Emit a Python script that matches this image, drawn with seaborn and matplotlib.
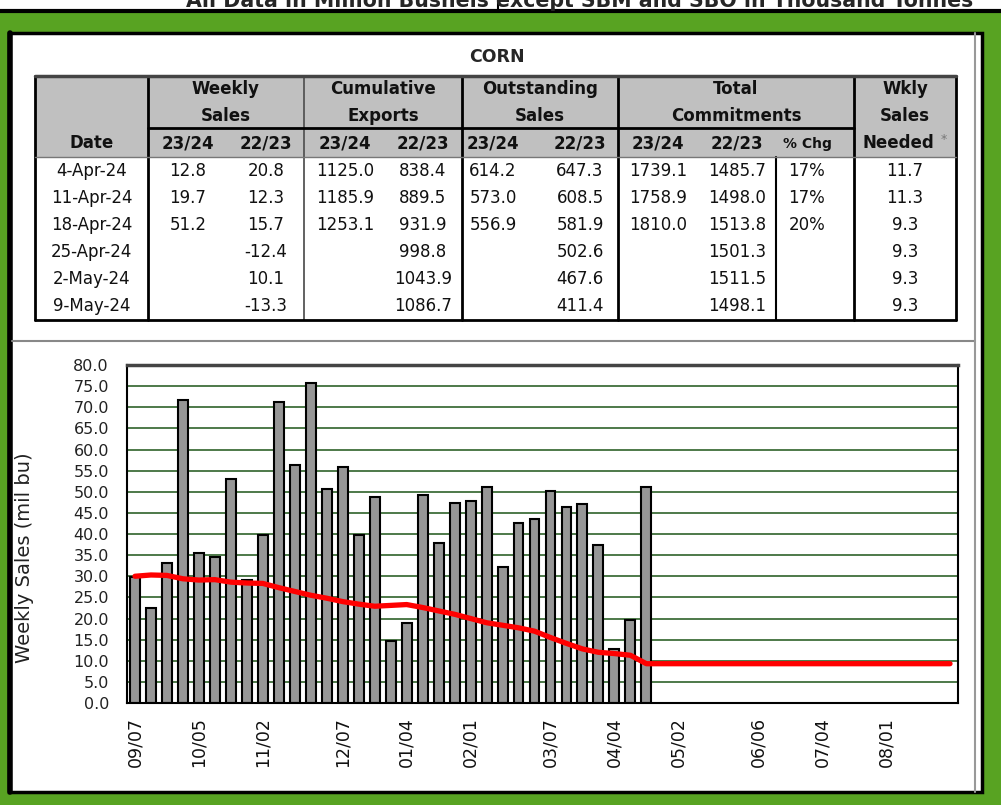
import numpy as np
import pandas as pd
import matplotlib
matplotlib.use("Agg")
import matplotlib.pyplot as plt
from matplotlib.patches import Rectangle
from matplotlib.ticker import FixedLocator, MultipleLocator, FormatStrFormatter
import seaborn as sns

# -------------------------------
# Data
# -------------------------------
weeks = ["09/07", "09/14", "09/21", "09/28", "10/05", "10/12", "10/19", "10/26",
         "11/02", "11/09", "11/16", "11/23", "11/30", "12/07", "12/14", "12/21",
         "12/28", "01/04", "01/11", "01/18", "01/25", "02/01", "02/08", "02/15",
         "02/22", "02/29", "03/07", "03/14", "03/21", "03/28", "04/04", "04/11",
         "04/18", "04/25", "05/02", "05/09", "05/16", "05/23", "05/30", "06/06",
         "06/13", "06/20", "06/27", "07/04", "07/11", "07/18", "07/25", "08/01",
         "08/08", "08/15", "08/22", "08/29"]

tick_weeks = ["09/07", "10/05", "11/02", "12/07", "01/04", "02/01",
              "03/07", "04/04", "05/02", "06/06", "07/04", "08/01"]

# weekly sales 23/24 (mil bu), reported weeks only
sales = [29.9, 22.4, 33.2, 71.6, 35.5, 34.6, 53.1, 29.2, 39.8, 71.2,
         56.4, 75.8, 50.7, 55.9, 39.8, 48.8, 14.6, 18.9, 49.2, 37.9,
         47.3, 47.8, 51.1, 32.1, 42.6, 43.5, 50.2, 46.4, 47.2, 37.4,
         12.8, 19.7, 51.2]

# weekly sales needed to reach USDA export estimate
needed = [30.0, 30.3, 30.2, 29.4, 29.1, 29.2, 28.6, 28.4, 28.3, 27.3,
          26.4, 25.5, 24.8, 24.0, 23.4, 22.9, 23.1, 23.3, 22.6, 21.8,
          21.0, 20.0, 19.0, 18.4, 17.8, 17.0, 15.5, 14.1, 12.8, 12.0,
          11.7, 11.3, 9.3, 9.3, 9.3, 9.3, 9.3, 9.3, 9.3, 9.3,
          9.3, 9.3, 9.3, 9.3, 9.3, 9.3, 9.3, 9.3, 9.3, 9.3,
          9.3, 9.3]

# table
tbl_dates = ["4-Apr-24", "11-Apr-24", "18-Apr-24", "25-Apr-24", "2-May-24", "9-May-24"]
ws_new = [12.8, 19.7, 51.2, None, None, None]
ws_old = [20.8, 12.3, 15.7, -12.4, 10.1, -13.3]
ce_new = [1125.0, 1185.9, 1253.1, None, None, None]
ce_old = [838.4, 889.5, 931.9, 998.8, 1043.9, 1086.7]
os_new = [614.2, 573.0, 556.9, None, None, None]
os_old = [647.3, 608.5, 581.9, 502.6, 467.6, 411.4]
tc_new = [1739.1, 1758.9, 1810.0, None, None, None]
tc_old = [1485.7, 1498.0, 1513.8, 1501.3, 1511.5, 1498.1]
pct_chg = ["17%", "17%", "20%", "", "", ""]
wk_needed = [11.7, 11.3, 9.3, 9.3, 9.3, 9.3]

df = pd.DataFrame({"week": weeks[:len(sales)], "sales": sales})

# -------------------------------
# Figure / frame
# -------------------------------
sns.set_style("white")
plt.rcParams["font.family"] = ["DejaVu Sans"]

W, H = 1001, 805
fig = plt.figure(figsize=(W / 100, H / 100), dpi=100)
fig.patch.set_facecolor("white")

bg = fig.add_axes([0, 0, 1, 1], zorder=0)
bg.set_xlim(0, W)
bg.set_ylim(H, 0)
bg.axis("off")

green = "#58A322"
bg.add_patch(Rectangle((0, 12), W, H - 12, color=green, lw=0))
bg.add_patch(Rectangle((9, 33), 973, 759, facecolor="white", edgecolor="black", lw=2.5))
bg.plot([0, W], [11, 11], color="black", lw=3)
bg.plot([498, 498], [0, 11], color="black", lw=1.5)
bg.plot([10, 10], [33, 792], color="black", lw=4)
bg.plot([12, 975], [341, 341], color="#888888", lw=1.5)
bg.plot([975, 975], [33, 792], color="#999999", lw=1.5)
# page header, cut off by the top edge as in the source scan
bg.text(580, 7, "All Data in Million Bushels except SBM and SBO in Thousand Tonnes",
        ha="center", va="baseline", fontsize=14.8, fontweight="bold")

# -------------------------------
# Table
# -------------------------------
bg.text(497, 57, "CORN", ha="center", va="center", fontsize=12.5, fontweight="bold")

tl, tr, tt, tb = 35, 956, 76, 320
hdr_b = 157
bg.add_patch(Rectangle((tl, tt), tr - tl, hdr_b - tt, facecolor="#C0C0C0", lw=0))

for x in [tl, 148, 462, 618, 854, tr]:
    bg.plot([x, x], [tt, tb], color="black", lw=2)
bg.plot([304, 304], [tt, tb], color="#555555", lw=1.3)
bg.plot([776, 776], [hdr_b, tb], color="black", lw=1.5)
bg.plot([tl, tr], [tt, tt], color="#444444", lw=2.5)
bg.plot([tl, tr], [tb, tb], color="black", lw=2)
bg.plot([148, 854], [128, 128], color="black", lw=2)
bg.plot([tl, tr], [hdr_b, hdr_b], color="#777777", lw=1)

hfont = dict(ha="center", va="center", fontsize=12, fontweight="bold", color="#111111")
groups = [(226, "Weekly", "Sales"), (383, "Cumulative", "Exports"),
          (540, "Outstanding", "Sales"), (736, "Total", "Commitments")]
for gx, l1, l2 in groups:
    bg.text(gx, 89, l1, **hfont)
    bg.text(gx, 116, l2, **hfont)
bg.text(905, 89, "Wkly", **hfont)
bg.text(905, 116, "Sales", **hfont)
bg.text(898, 143, "Needed", **hfont)
bg.text(944, 139, "*", ha="center", va="center", fontsize=9, color="#777777")

col_x = [91.7, 188, 266, 345, 423, 493, 580, 658, 737, 807, 905]
subs = ["Date", "23/24", "22/23", "23/24", "22/23", "23/24", "22/23", "23/24", "22/23"]
for x, s in zip(col_x, subs):
    bg.text(x, 143, s, **hfont)
bg.text(col_x[9], 144, "% Chg", ha="center", va="center", fontsize=10,
        fontweight="bold", color="#111111")


def fmt(v):
    return "" if v is None else f"{v:.1f}"


columns = [tbl_dates, [fmt(v) for v in ws_new], [fmt(v) for v in ws_old],
           [fmt(v) for v in ce_new], [fmt(v) for v in ce_old],
           [fmt(v) for v in os_new], [fmt(v) for v in os_old],
           [fmt(v) for v in tc_new], [fmt(v) for v in tc_old],
           pct_chg, [fmt(v) for v in wk_needed]]
for i in range(len(tbl_dates)):
    y = 171 + 26.9 * i
    for x, col in zip(col_x, columns):
        bg.text(x, y, col[i], ha="center", va="center", fontsize=12, color="#111111")

# -------------------------------
# Chart
# -------------------------------
ax = fig.add_axes([127 / W, 1 - 703 / H, 831 / W, 338 / H], zorder=2)
ax.set_facecolor("white")

sns.barplot(data=df, x="week", y="sales", order=weeks, color="#969696",
            saturation=1, width=0.62, edgecolor="black", linewidth=1.5, ax=ax)
ax.plot(np.arange(len(weeks)), needed, color="#FF0000", lw=3.8, zorder=5,
        solid_capstyle="round")

ax.set_xlim(-0.5, len(weeks) - 0.5)
ax.set_ylim(0, 80)

ax.yaxis.set_major_locator(MultipleLocator(5))
ax.yaxis.set_major_formatter(FormatStrFormatter("%.1f"))
ax.yaxis.grid(True, color="#3F6E3A", lw=1.3)
ax.set_axisbelow(True)

tick_pos = [weeks.index(w) for w in tick_weeks]
ax.xaxis.set_major_locator(FixedLocator(tick_pos))
ax.set_xticklabels(tick_weeks, rotation=90)
ax.xaxis.set_minor_locator(FixedLocator(np.arange(len(weeks) + 1) - 0.5))
ax.tick_params(axis="x", which="major", length=0, pad=10, labelsize=12.5, colors="#111111")
ax.tick_params(axis="x", which="minor", direction="inout", length=10, width=1.3, color="black")
ax.tick_params(axis="y", which="major", direction="inout", length=10, width=1.3,
               color="black", labelsize=11.5, labelcolor="#222222", pad=8)

for side in ["left", "bottom", "right"]:
    ax.spines[side].set_color("black")
    ax.spines[side].set_linewidth(1.5)
ax.spines["top"].set_color("#444444")
ax.spines["top"].set_linewidth(2.5)

ax.set_xlabel("")
ax.set_ylabel("Weekly Sales (mil bu)", fontsize=14, color="#222222")
ax.yaxis.set_label_coords(-0.112, 0.43)

fig.savefig("out.png", dpi=100, facecolor=fig.get_facecolor())
